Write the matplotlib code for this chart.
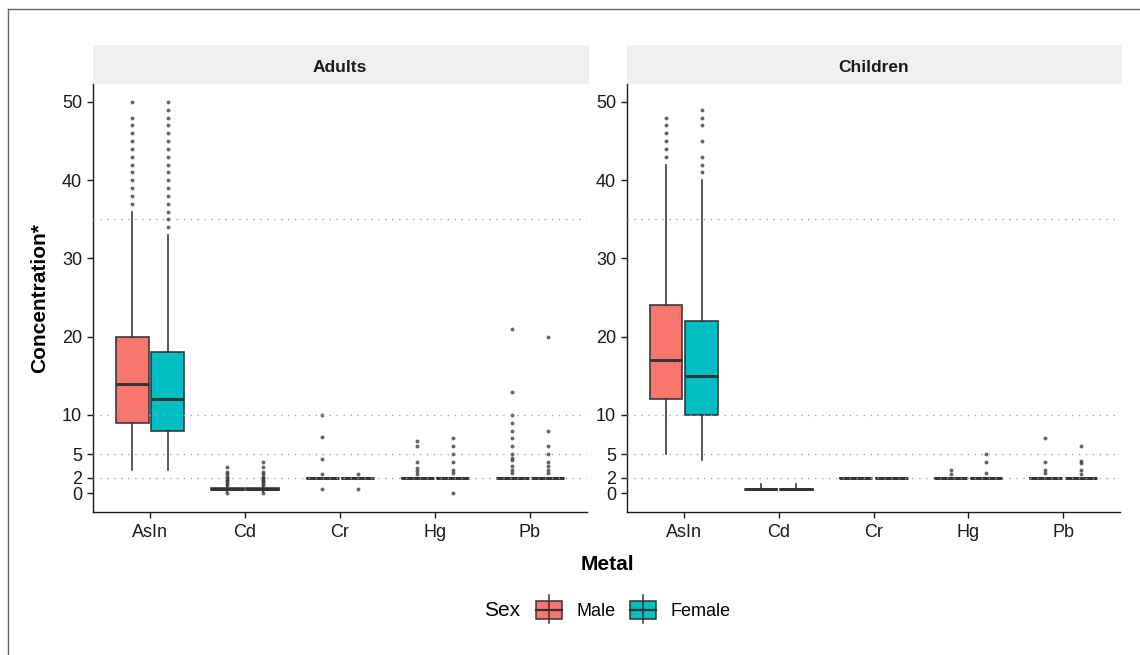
import matplotlib
matplotlib.use("Agg")
import matplotlib.pyplot as plt
from matplotlib.patches import Rectangle
from matplotlib.lines import Line2D

plt.rcParams['font.family'] = ['Liberation Sans', 'DejaVu Sans']

metals = ["AsIn", "Cd", "Cr", "Hg", "Pb"]
groups = ["Adults", "Children"]
sexes = ["Male", "Female"]
fill = {"Male": "#F8766D", "Female": "#00BFC4"}
ref_lines = [2, 5, 10, 35]
y_ticks = [0, 2, 5, 10, 20, 30, 40, 50]

# (q1, median, q3, lower whisker, upper whisker) par métal
adults_male_box = [(9, 14, 20, 3, 36), (0.4, 0.5, 0.65, 0.1, 0.9), (2, 2, 2, 2, 2),
                   (2, 2, 2, 2, 2), (2, 2, 2, 2, 2)]
adults_female_box = [(8, 12, 18, 3, 33), (0.4, 0.5, 0.65, 0.1, 0.9), (2, 2, 2, 2, 2),
                     (2, 2, 2, 2, 2), (2, 2, 2, 2, 2)]
children_male_box = [(12, 17, 24, 5, 42), (0.45, 0.5, 0.6, 0.5, 1.2), (2, 2, 2, 2, 2),
                     (2, 2, 2, 2, 2), (2, 2, 2, 2, 2)]
children_female_box = [(10, 15, 22, 4.3, 40), (0.45, 0.5, 0.6, 0.5, 1.2), (2, 2, 2, 2, 2),
                       (2, 2, 2, 2, 2), (2, 2, 2, 2, 2)]

# valeurs extrêmes
adults_male_out = [
    [37, 38, 39, 40, 41, 42, 43, 44, 45, 46, 47, 48, 50],
    [0, 1.1, 1.3, 1.5, 1.7, 1.9, 2.1, 2.4, 2.7, 3.3],
    [0.5, 2.4, 4.4, 7.2, 10],
    [2.5, 2.8, 3.2, 4.0, 6.0, 6.7],
    [2.6, 3.0, 3.5, 4.2, 4.5, 5, 6, 7, 8, 9, 10, 13, 21],
]
adults_female_out = [
    [34, 35, 36, 37, 38, 39, 40, 41, 42, 43, 44, 45, 46, 47, 48, 49, 50],
    [0, 1.1, 1.3, 1.5, 1.7, 1.9, 2.1, 2.4, 2.7, 3.3, 4.0],
    [0.5, 2.4],
    [0, 2.6, 3.0, 4.0, 5.0, 6.0, 7.1],
    [2.6, 3.0, 3.5, 4.0, 5.0, 6.0, 8.0, 20],
]
children_male_out = [
    [43, 44, 45, 46, 47, 48],
    [],
    [],
    [2.4, 3.0],
    [2.6, 3.0, 4.0, 7.0],
]
children_female_out = [
    [41, 42, 43, 45, 47, 48, 49],
    [],
    [],
    [2.6, 4.0, 5.0],
    [2.5, 3.0, 3.9, 4.1, 6.0],
]

data = {
    ("Adults", "Male"): (adults_male_box, adults_male_out),
    ("Adults", "Female"): (adults_female_box, adults_female_out),
    ("Children", "Male"): (children_male_box, children_male_out),
    ("Children", "Female"): (children_female_box, children_female_out),
}

W, H = 1140, 655
fig = plt.figure(figsize=(W / 100, H / 100), dpi=100)


def px_axes(x0, y0, x1, y1):
    return fig.add_axes([x0 / W, 1 - y1 / H, (x1 - x0) / W, (y1 - y0) / H])


panels = [px_axes(93, 84, 587, 512), px_axes(627, 84, 1120, 512)]
offset = {"Male": -0.1875, "Female": 0.1875}

for ax, grp in zip(panels, groups):
    for sex in sexes:
        boxes, outs = data[(grp, sex)]
        stats = []
        for (q1, med, q3, lo, hi), fl in zip(boxes, outs):
            stats.append(dict(q1=q1, med=med, q3=q3, whislo=lo, whishi=hi, fliers=fl))
        pos = [i + 1 + offset[sex] for i in range(len(metals))]
        ax.bxp(stats, positions=pos, widths=0.345, patch_artist=True,
               showcaps=False, showfliers=True, manage_ticks=False,
               boxprops=dict(facecolor=fill[sex], edgecolor="#333333", linewidth=1.15),
               medianprops=dict(color="#333333", linewidth=2.1, solid_capstyle="butt"),
               whiskerprops=dict(color="#333333", linewidth=1.15),
               flierprops=dict(marker="o", markersize=2.8, markerfacecolor="#333333",
                               markeredgecolor="none", alpha=0.75))
    for yv in ref_lines:
        ax.axhline(yv, color="#a6a6a6", linewidth=1.0, linestyle=(0, (1, 4)), zorder=5)

    ax.set_xlim(0.4, 5.6)
    ax.set_ylim(-2.4, 52.3)
    ax.set_xticks(range(1, len(metals) + 1))
    ax.set_xticklabels(metals)
    ax.set_yticks(y_ticks)
    for s in ["top", "right"]:
        ax.spines[s].set_visible(False)
    for s in ["left", "bottom"]:
        ax.spines[s].set_linewidth(1.0)
        ax.spines[s].set_color("#1a1a1a")
    ax.tick_params(labelsize=13, colors="#1a1a1a", length=4.3, width=1.0, pad=3.5)
    ax.tick_params(axis="x", pad=4.5)

    # bandeau du facet
    strip_h = 39 / 428
    ax.add_patch(Rectangle((0, 1), 1.005, strip_h, transform=ax.transAxes,
                           facecolor="#f0f0f0", edgecolor="none", clip_on=False))
    ax.text(0.5, 1 + strip_h / 2 - 0.006, grp, transform=ax.transAxes, ha="center",
            va="center", fontsize=12.5, fontweight="bold", color="#1a1a1a")

fig.text(40 / W, 1 - 298 / H, "Concentration*", rotation=90, ha="center",
         va="center", fontsize=15, fontweight="bold")
fig.text(607 / W, 1 - 564 / H, "Metal", ha="center", va="center",
         fontsize=15, fontweight="bold")

# légende
leg = fig.add_axes([0, 0, 1, 1], zorder=-1)
leg.set_xlim(0, W)
leg.set_ylim(H, 0)
leg.axis("off")
leg.text(484, 611, "Sex", fontsize=15, ha="left", va="center")
for sex, kx, tx in [("Male", 536, 577), ("Female", 630, 671)]:
    leg.plot([kx + 13, kx + 13], [595, 623], color="#333333", linewidth=1.1)
    leg.add_patch(Rectangle((kx, 601), 26, 18, facecolor=fill[sex],
                            edgecolor="#333333", linewidth=1.1))
    leg.plot([kx, kx + 26], [610, 610], color="#333333", linewidth=1.6)
    leg.text(tx, 611, sex, fontsize=13, ha="left", va="center")

# cadre extérieur
fig.add_artist(Line2D([8 / W, 1], [1 - 9 / H, 1 - 9 / H], transform=fig.transFigure,
                      color="#666666", linewidth=1.0))
fig.add_artist(Line2D([8 / W, 8 / W], [0, 1 - 9 / H], transform=fig.transFigure,
                      color="#666666", linewidth=1.0))

fig.savefig("out.png", dpi=100)
